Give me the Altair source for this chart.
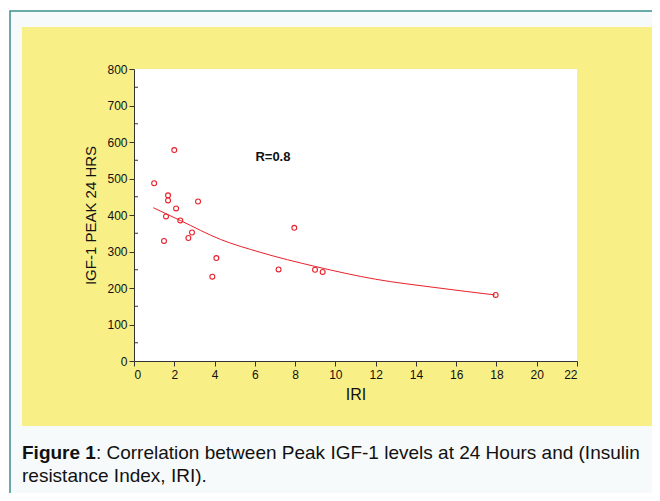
import altair as alt
import pandas as pd

# ---- data ----
iri = [1.0, 2.0, 1.69, 1.69, 2.09, 3.18, 1.59, 2.3, 2.88, 2.7, 1.49, 4.09, 3.89, 7.96, 7.18, 8.99, 9.37, 17.96]
igf = [487, 578, 454, 440, 418, 437, 396, 385, 352, 337, 329, 282, 231, 365, 251, 250, 244, 181]
fit_x = [0.96, 2.3, 4.3, 6.26, 9.0, 12.0, 15.0, 17.92]
fit_y = [420, 385, 333, 298, 259, 224, 201, 181]
x_ticks = list(range(0, 23, 2))
y_ticks = list(range(0, 801, 100))
y_minor = list(range(50, 800, 100))
r_label = "R=0.8"
r_pos = [6.9, 559]
x_title = "IRI"
y_title = "IGF-1 PEAK 24 HRS"
caption_bold = "Figure 1"
caption_rest = ": Correlation between Peak IGF-1 levels at 24 Hours and (Insulin"
caption_line2 = "resistance Index, IRI)."

FONT = "Liberation Sans"
RED = "#e8202a"
INK = "#111111"
W, H = 443, 292
CAP = 19

one = alt.Data(values=[{"a": 1}])
xs = alt.Scale(domain=[0, 22], nice=False, zero=False)
ys = alt.Scale(domain=[0, 800], nice=False, zero=False)

axis_common = dict(tickSize=5, domainColor="#333", tickColor="#333", labelFont=FONT,
                   labelFontSize=12, labelColor=INK, grid=False, zindex=1,
                   titleFont=FONT, titleFontWeight="normal", titleColor=INK)
x_axis = alt.Axis(values=x_ticks, labelPadding=3, titleFontSize=16, titlePadding=6, **axis_common)
y_axis = alt.Axis(values=y_ticks, labelPadding=2, titleFontSize=15, titlePadding=8, **axis_common)


def X():
    return alt.X("IRI:Q", scale=xs, title=x_title, axis=x_axis)


def Y():
    return alt.Y("IGF:Q", scale=ys, title=y_title, axis=y_axis)


border = alt.Chart(one).mark_rect(fill="#f7fafa", stroke="#3d8f8f", strokeWidth=1.5).encode(
    x=alt.value(-124), x2=alt.value(600), y=alt.value(-58), y2=alt.value(480))
yellow = alt.Chart(one).mark_rect(fill="#f9ef87").encode(
    x=alt.value(-112), x2=alt.value(600), y=alt.value(-42), y2=alt.value(357))
white = alt.Chart(one).mark_rect(fill="white").encode(
    x=alt.value(0), x2=alt.value(W), y=alt.value(0), y2=alt.value(H))

df = pd.DataFrame({"IRI": iri, "IGF": igf})
points = alt.Chart(df).mark_point(shape="circle", filled=False, color=RED, size=24,
                                  strokeWidth=1.1, opacity=1).encode(x=X(), y=Y())

fit = alt.Chart(pd.DataFrame({"IRI": fit_x, "IGF": fit_y})).mark_line(
    color=RED, strokeWidth=1, interpolate="monotone").encode(x=X(), y=Y())

minor = alt.Chart(pd.DataFrame({"IGF": y_minor})).mark_rule(color="#333", strokeWidth=1).encode(
    y=Y(), x=alt.value(0), x2=alt.value(4))

rtext = alt.Chart(pd.DataFrame({"IRI": [r_pos[0]], "IGF": [r_pos[1]], "t": [r_label]})).mark_text(
    font=FONT, fontSize=13, fontWeight="bold", color=INK).encode(x=X(), y=Y(), text="t:N")

cap1 = alt.Chart(one).mark_text(font=FONT, fontSize=CAP, fontWeight="bold", color=INK,
                                align="left", baseline="alphabetic").encode(
    x=alt.value(-112), y=alt.value(390), text=alt.value(caption_bold))
cap2 = alt.Chart(one).mark_text(font=FONT, fontSize=CAP, color=INK,
                                align="left", baseline="alphabetic").encode(
    x=alt.value(-112 + 3.89 * CAP), y=alt.value(390), text=alt.value(caption_rest))
cap3 = alt.Chart(one).mark_text(font=FONT, fontSize=CAP, color=INK,
                                align="left", baseline="alphabetic").encode(
    x=alt.value(-112), y=alt.value(413), text=alt.value(caption_line2))

chart = alt.layer(border, yellow, white, points, fit, minor, rtext, cap1, cap2, cap3).properties(
    width=W, height=H,
    padding={"left": 126, "top": 61, "right": 75, "bottom": 132},
    autosize=alt.AutoSizeParams(type="none"),
).configure_view(stroke=None).configure(background="white")

chart.save("out.html", embed_options={"renderer": "svg", "actions": False})
